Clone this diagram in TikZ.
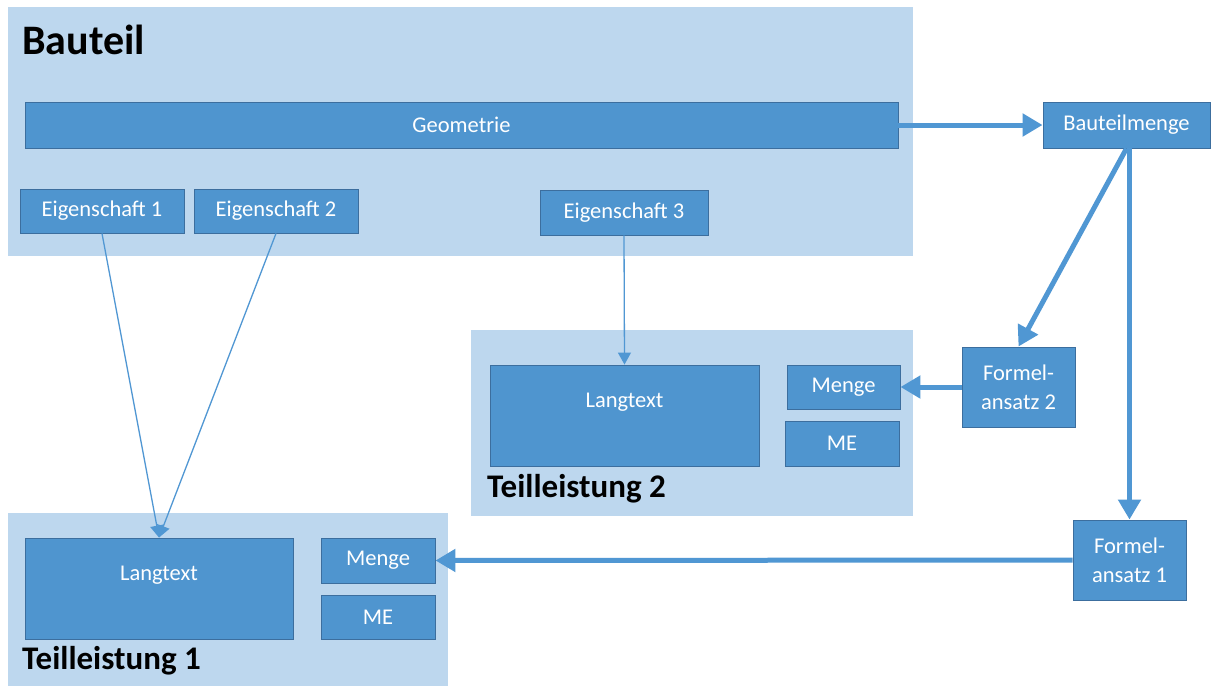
\documentclass[tikz,border=0pt]{standalone}
\usepackage{fontspec}
\setmainfont{Carlito}
\usetikzlibrary{arrows.meta,calc}
\definecolor{bglight}{RGB}{189,215,238}
\definecolor{boxfill}{RGB}{79,149,207}
\definecolor{boxline}{RGB}{60,110,158}
\definecolor{arrowc}{RGB}{80,151,211}
\begin{document}
\begin{tikzpicture}[x=1pt,y=-1pt,
  group/.style={fill=bglight,draw=none},
  box/.style={draw=boxline,line width=0.9pt,fill=boxfill,text=white,inner sep=0pt,
     font=\fontsize{22.5}{29}\selectfont,align=center},
  wtext/.style={text=white,inner sep=0pt,font=\fontsize{22.5}{29}\selectfont},
  title/.style={anchor=base west,inner sep=0pt,font=\fontsize{33}{38}\selectfont\bfseries},
  thick arrow/.style={draw=arrowc,line width=5pt,-{Triangle[length=20pt,width=22pt]}},
  thin arrow/.style={draw=arrowc,line width=1.3pt,-{Triangle[length=12pt,width=13pt]}}]
\useasboundingbox (0,0) rectangle (1215,686);
\fill[white] (0,0) rectangle (1215,686);
% groups
\fill[group] (8,7) rectangle (913,256);
\fill[group] (471,330) rectangle (913,516);
\fill[group] (8,513) rectangle (448,686);
% titles
\node[title,font=\fontsize{42}{46}\selectfont\bfseries] (tBauteil) at (22,54) {Bauteil};
\node[title] (tTL2) at (487,497) {Teilleistung 2};
\node[title] (tTL1) at (22,669) {Teilleistung 1};
% Bauteil boxes
\node[box,minimum width=873,minimum height=46] (geo) at (461.5,125) {Geometrie};
\node[box,minimum width=164,minimum height=44] (e1) at (102,211) {Eigenschaft 1};
\node[box,minimum width=164,minimum height=44] (e2) at (276,211) {Eigenschaft 2};
\node[box,minimum width=168,minimum height=45] (e3) at (624,212.5) {Eigenschaft 3};
\node[box,minimum width=167,minimum height=46] (bm) at (1126.5,125) {Bauteilmenge};
% Teilleistung 2
\node[box,minimum width=269,minimum height=101] (l2) at (624.5,415.5) {};
\node[wtext] (l2t) at ($(l2.north)+(0,38)$) {Langtext};
\node[box,minimum width=113,minimum height=44] (m2) at (843.5,387) {Menge};
\node[box,minimum width=114,minimum height=45] (me2) at (842,443.5) {ME};
\node[box,minimum width=113,minimum height=80] (f2) at (1018.5,387) {Formel-\\ansatz 2};
% Teilleistung 1
\node[box,minimum width=268,minimum height=101] (l1) at (159,588.5) {};
\node[wtext] (l1t) at ($(l1.north)+(0,38)$) {Langtext};
\node[box,minimum width=114,minimum height=45] (m1) at (378,560.5) {Menge};
\node[box,minimum width=114,minimum height=44] (me1) at (378,617) {ME};
\node[box,minimum width=113,minimum height=80] (f1) at (1129.5,560) {Formel-\\ansatz 1};
% connectors
\draw[thick arrow] (geo.east) -- (bm.west);
\draw[thick arrow] (bm.south) -- (f2.north);
\draw[thick arrow] (bm.south -| f1.north) -- (f1.north);
\draw[thick arrow] (f2.west) -- (m2.east);
\draw[thick arrow] (f1.west) -- (m1.east);
\draw[thin arrow] (e1.south) -- (l1.north);
\draw[thin arrow] (e2.south) -- (l1.north);
\draw[thin arrow] (e3.south) -- (l2.north);
\end{tikzpicture}
\end{document}
